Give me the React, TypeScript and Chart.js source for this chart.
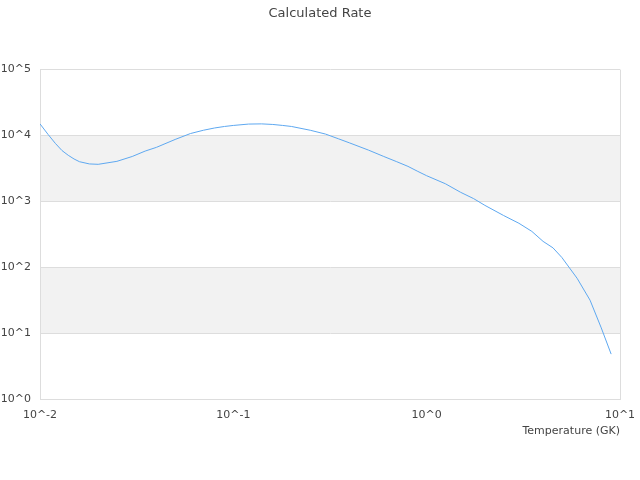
import React, { useEffect, useRef } from 'react';
import { Chart, registerables } from 'chart.js';

Chart.register(...registerables);

// temperature (GK) and calculated rate
const temperatures = [
  0.01, 0.011, 0.012, 0.013, 0.014, 0.015, 0.016, 0.018, 0.02, 0.025, 0.03, 0.035,
  0.04, 0.05, 0.06, 0.07, 0.08, 0.09, 0.1, 0.12, 0.14, 0.16, 0.18, 0.2, 0.25, 0.3,
  0.35, 0.4, 0.5, 0.6, 0.7, 0.8, 0.9, 1.0, 1.25, 1.5, 1.75, 2, 2.5, 3, 3.5, 4, 4.5,
  5, 6, 7, 8, 9,
];
const rates = [
  15000, 10400, 7600, 5900, 5000, 4400, 4000, 3700, 3650, 4050, 4800, 5800,
  6600, 8700, 10700, 12000, 13000, 13700, 14200, 14900, 15000, 14700, 14200, 13700, 12000, 10500,
  8900, 7700, 6000, 4800, 4000, 3400, 2850, 2450, 1850, 1370, 1100, 870, 610, 465, 350, 247, 197,
  141, 68, 31.6, 12, 4.8,
];
const xDecades = [0.01, 0.1, 1, 10];
const yDecades = [1, 10, 100, 1000, 10000, 100000];
// shaded bands between these decade pairs
const bands: [number, number][] = [[10, 100], [1000, 10000]];

const FONT = 'DejaVu Sans, sans-serif';
const TEXT = '#444';
const GRID = '#dddddd';

const fmt = (v: number) => '10^' + Math.round(Math.log10(v));

const bandPlugin = {
  id: 'bands',
  beforeDraw(chart: any) {
    const { ctx, chartArea, scales } = chart;
    ctx.save();
    ctx.fillStyle = '#f2f2f2';
    bands.forEach(([lo, hi]) => {
      const top = scales.y.getPixelForValue(hi);
      const bottom = scales.y.getPixelForValue(lo);
      ctx.fillRect(chartArea.left, top, chartArea.right - chartArea.left, bottom - top);
    });
    ctx.restore();
  },
};

const App: React.FC = () => {
  const canvasRef = useRef<HTMLCanvasElement>(null);

  useEffect(() => {
    document.body.style.margin = '0';
    let chart: Chart | null = null;
    const ctx = canvasRef.current?.getContext('2d');
    if (ctx) {
      chart = new Chart(ctx, {
        type: 'line',
        data: {
          datasets: [{
            label: 'Rate',
            data: temperatures.map((t, i) => ({ x: t, y: rates[i] })),
            borderColor: '#5ea8f0',
            borderWidth: 1,
            pointRadius: 0,
            tension: 0,
            fill: false,
          }],
        },
        options: {
          animation: false,
          responsive: false,
          layout: { padding: { left: 0, right: 0, top: 0, bottom: 38 } },
          plugins: {
            legend: { display: false },
            tooltip: { enabled: false },
            title: {
              display: true,
              text: 'Calculated Rate',
              color: TEXT,
              font: { family: FONT, size: 13, weight: 'normal' },
              padding: { top: 6, bottom: 48 },
            },
          },
          scales: {
            x: {
              type: 'logarithmic',
              min: 0.01,
              max: 10,
              afterBuildTicks: (axis: any) => {
                axis.ticks = xDecades.map((v) => ({ value: v }));
              },
              afterFit: (axis: any) => {
                axis.height = 43;
                axis.paddingLeft = 0;
                axis.paddingRight = 20;
              },
              ticks: {
                color: TEXT,
                font: { family: FONT, size: 11 },
                padding: 10,
                maxRotation: 0,
                autoSkip: false,
                callback: (v: any) => fmt(Number(v)),
              },
              grid: {
                drawTicks: false,
                tickLength: 0,
                color: (c: any) => (c.tick && (c.tick.value === 10 || c.tick.value === 0.01) ? GRID : 'transparent'),
              },
              border: { color: GRID },
              title: {
                display: true,
                text: 'Temperature (GK)',
                align: 'end',
                color: TEXT,
                font: { family: FONT, size: 11 },
                padding: { top: 4, bottom: 4 },
              },
            },
            y: {
              type: 'logarithmic',
              min: 1,
              max: 100000,
              afterBuildTicks: (axis: any) => {
                axis.ticks = yDecades.map((v) => ({ value: v }));
              },
              afterFit: (axis: any) => {
                axis.width = 40;
              },
              ticks: {
                color: TEXT,
                font: { family: FONT, size: 11 },
                padding: 9,
                autoSkip: false,
                callback: (v: any) => fmt(Number(v)),
              },
              grid: { drawTicks: false, tickLength: 0, color: GRID },
              border: { color: GRID },
            },
          },
        },
        plugins: [bandPlugin],
      } as any);
    }
    return () => {
      if (chart) chart.destroy();
    };
  }, []);

  return (
    <div style={{ width: 640, height: 480 }}>
      <canvas ref={canvasRef} width={640} height={480}></canvas>
    </div>
  );
};

export default App;
